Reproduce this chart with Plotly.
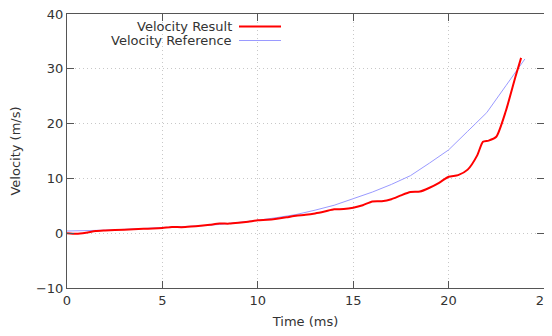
import plotly.graph_objects as go

# Velocity Result (red)
t_result = [0, 0.5, 1, 1.5, 2, 3, 4, 4.5, 5, 5.5, 6, 6.5, 7, 7.5, 8, 8.5, 9, 9.5, 10,
            10.5, 11, 11.5, 12, 12.5, 13, 13.5, 14, 14.5, 15, 15.5, 16, 16.5, 17, 17.5,
            18, 18.5, 19, 19.5, 20, 20.5, 21, 21.5, 21.8, 22.1, 22.5, 23, 23.5, 23.8]
v_result = [0, -0.1, 0.1, 0.4, 0.5, 0.65, 0.8, 0.85, 0.95, 1.15, 1.1, 1.2, 1.35, 1.55,
            1.75, 1.75, 1.9, 2.1, 2.35, 2.45, 2.65, 2.9, 3.2, 3.35, 3.6, 3.95, 4.35, 4.4,
            4.65, 5.1, 5.8, 5.85, 6.2, 6.9, 7.5, 7.6, 8.3, 9.2, 10.3, 10.6, 11.6, 14.2,
            16.7, 16.9, 17.6, 22.3, 28.5, 32.0]

# Velocity Reference (blue)
t_ref = [0, 1, 2, 3, 4, 5, 6, 7, 8, 9, 10, 11, 12, 13, 14, 15, 16, 17, 18, 19, 20, 21, 22, 23, 24]
v_ref = [0.4, 0.45, 0.55, 0.7, 0.85, 1.0, 1.15, 1.35, 1.6, 1.95, 2.35, 2.85, 3.4, 4.2,
         5.1, 6.3, 7.5, 8.9, 10.5, 12.8, 15.2, 18.6, 22.0, 26.9, 31.8]

x_ticks = [0, 5, 10, 15, 20, 25]
y_ticks = [-10, 0, 10, 20, 30, 40]

FONT = "DejaVu Sans"
FS = 13
AXC = "#555555"
TXT = "#333333"

# the page body has an 8px margin, so the figure is drawn from (8, 8)
W, H = 544, 328
L, R, T, B = 59, 8, 6, 48
PW, PH = W - L - R, H - T - B

fig = go.Figure()
fig.add_trace(go.Scatter(x=t_ref, y=v_ref, mode="lines", name="Velocity Reference",
                         line=dict(color="#9a9aff", width=1)))
fig.add_trace(go.Scatter(x=t_result, y=v_result, mode="lines", name="Velocity Result",
                         line=dict(color="#ff0000", width=2, shape="spline", smoothing=0.6)))

axis_common = dict(showline=True, linecolor=AXC, linewidth=1, mirror="ticks",
                   ticks="inside", ticklen=7, tickcolor=AXC, tickwidth=1,
                   showgrid=True, gridcolor="#c8c8c8", griddash="1px,3px", gridwidth=1,
                   zeroline=False, automargin=False, ticklabeloverflow="allow",
                   tickfont=dict(family=FONT, size=FS, color=TXT))

fig.update_layout(
    width=W, height=H,
    margin=dict(l=L, r=R, t=T, b=B),
    paper_bgcolor="white", plot_bgcolor="white",
    showlegend=False,
    font=dict(family=FONT, size=FS, color=TXT),
    xaxis=dict(range=[0, 25], tickvals=x_ticks,
               title=dict(text="Time (ms)", font=dict(family=FONT, size=FS, color=TXT), standoff=10),
               **axis_common),
    yaxis=dict(range=[-10, 40], tickvals=y_ticks,
               title=dict(text="Velocity (m/s)", font=dict(family=FONT, size=FS, color=TXT), standoff=12),
               **axis_common),
)

# gnuplot-style legend: text right-aligned, sample line on the right (page pixel coords)
leg = [("Velocity Result", "#ff0000", 2, 26.5), ("Velocity Reference", "#9a9aff", 1, 40.5)]
def px_x(p):
    return (p - 8 - L) / PW
def px_y(p):
    return (H - B - (p - 8)) / PH
for name, col, w, ypx in leg:
    fig.add_annotation(xref="paper", yref="paper", x=px_x(234), y=px_y(ypx),
                       text=name, showarrow=False, xanchor="right", yanchor="middle",
                       font=dict(family=FONT, size=FS, color=TXT))
    fig.add_shape(type="line", xref="paper", yref="paper",
                  x0=px_x(239), x1=px_x(281), y0=px_y(ypx), y1=px_y(ypx),
                  line=dict(color=col, width=w))

fig.write_html("out.html")
